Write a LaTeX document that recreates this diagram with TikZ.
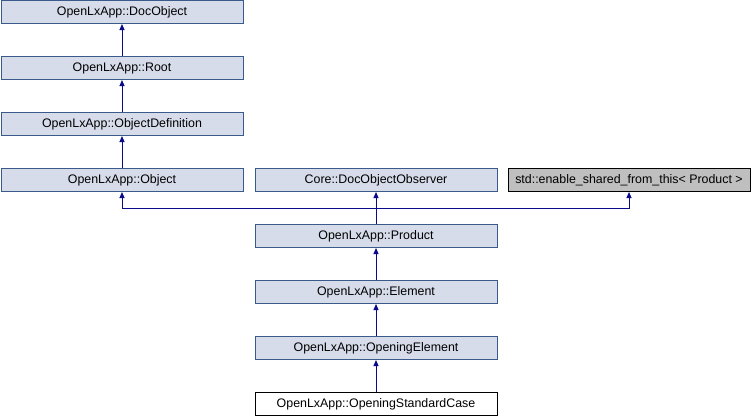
\documentclass[tikz,border=0pt]{standalone}
\usepackage{fontspec}
\setmainfont{Liberation Sans}
\usetikzlibrary{arrows.meta}
\definecolor{boxfill}{HTML}{D6DCEA}
\definecolor{boxline}{HTML}{3B5A8C}
\definecolor{edge}{HTML}{0A0A8C}
\definecolor{grayfill}{HTML}{BFBFBF}
\begin{document}
\begin{tikzpicture}[x=1pt,y=-1pt,
  cls/.style={draw=boxline,fill=boxfill,line width=1pt,minimum width=242pt,minimum height=23pt,inner sep=0pt,font=\fontsize{12.4}{14}\selectfont},
  ext/.style={cls,draw=black,fill=grayfill},
  cur/.style={cls,draw=black,fill=white},
  inh/.style={draw=edge,line width=1pt,-{Triangle[length=6pt,width=5pt]}}]
\useasboundingbox (0,0) rectangle (752,416);
\node[cls] (doc) at (122,12) {OpenLxApp::DocObject};
\node[cls] (root) at (122,68) {OpenLxApp::Root};
\node[cls] (def) at (122,124) {OpenLxApp::ObjectDefinition};
\node[cls] (obj) at (122,180) {OpenLxApp::Object};
\node[cls] (obs) at (376,180) {Core::DocObjectObserver};
\node[ext] (esft) at (629,180) {std::enable\_shared\_from\_this< Product >};
\node[cls] (prod) at (376,236) {OpenLxApp::Product};
\node[cls] (elem) at (376,292) {OpenLxApp::Element};
\node[cls] (open) at (376,348) {OpenLxApp::OpeningElement};
\node[cur] (osc) at (376,404) {OpenLxApp::OpeningStandardCase};
\draw[inh] (root) -- (doc);
\draw[inh] (def) -- (root);
\draw[inh] (obj) -- (def);
\draw[inh] (elem) -- (prod);
\draw[inh] (open) -- (elem);
\draw[inh] (osc) -- (open);
\coordinate (bus) at (376,208);
\draw[inh] (prod.north) -- (bus) -| (obj.south);
\draw[inh] (prod.north) -- (obs.south);
\draw[inh] (bus) -| (esft.south);
\end{tikzpicture}
\end{document}
